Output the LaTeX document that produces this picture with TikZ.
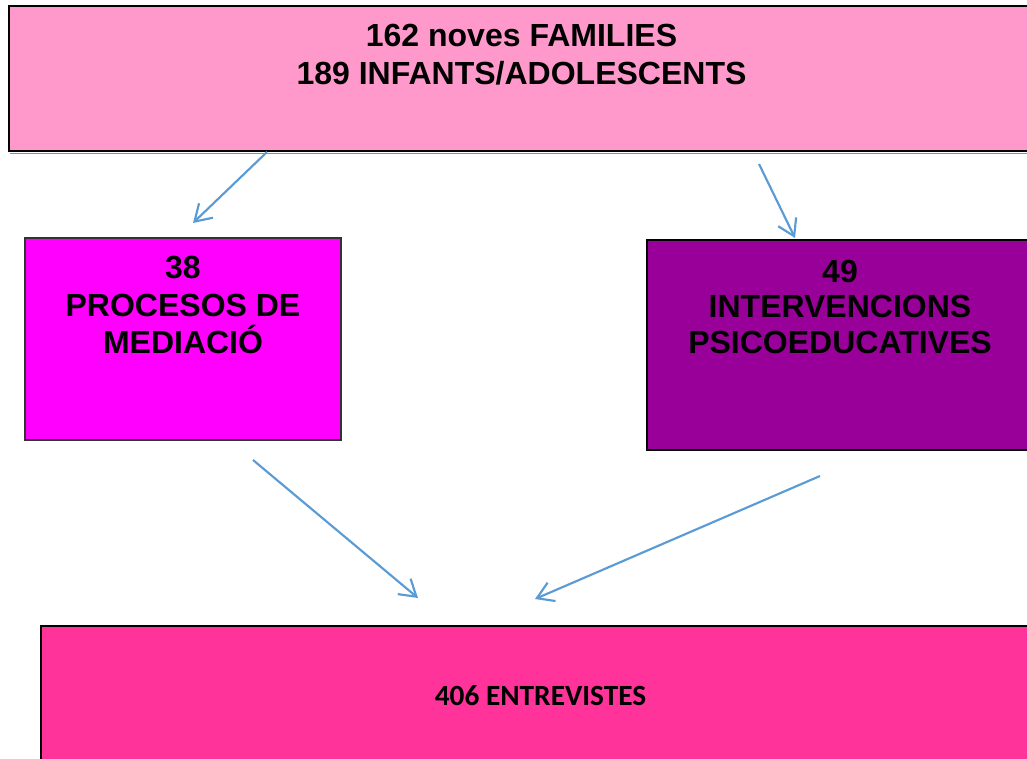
\documentclass[tikz,border=0pt]{standalone}
\usepackage{fontspec}
\setmainfont{Liberation Sans}
\newfontfamily\carlito{Carlito}
\usetikzlibrary{arrows.meta,fit}
\definecolor{toppink}{HTML}{FF99CC}
\definecolor{magbox}{HTML}{FF00FF}
\definecolor{purpbox}{HTML}{990099}
\definecolor{hotpink}{HTML}{FF3399}
\definecolor{arrowblue}{HTML}{5B9BD5}
\tikzset{
  box/.style={draw=black, inner sep=0pt, line width=1.2pt},
  bigtxt/.style={anchor=base, inner sep=0pt, font=\fontsize{24}{28}\selectfont\bfseries},
  smalltxt/.style={anchor=base, inner sep=0pt, font=\fontsize{22}{26}\selectfont\carlito\bfseries},
  conn/.style={draw=arrowblue, line width=1.6pt, -{Straight Barb[length=12pt,width=15pt]}}
}
\begin{document}
\begin{tikzpicture}[x=0.75pt, y=-0.75pt]
\clip (0,0) rectangle (1027,759);
\fill[white] (0,0) rectangle (1027,759);
% shadow line under top box
\draw[black!45, line width=1pt] (10,153.5) -- (1045,153.5);
% boxes
\node[box, fill=toppink, fit={(9,6) (1045,151)}] (top) {};
\node[box, fill=magbox, line width=0.9pt, draw=black!80, fit={(25,238) (341,440)}] (left) {};
\node[box, fill=purpbox, fit={(647,240) (1045,450)}] (right) {};
\node[box, fill=hotpink, line width=2pt, fit={(41,626) (1045,790)}] (bottom) {};
% texts
\node[bigtxt] (t1) at (521.5,47) {162 noves FAMILIES};
\node[bigtxt] (t2) at (521.5,85) {189 INFANTS/ADOLESCENTS};
\node[bigtxt] (l1) at (183,278) {38};
\node[bigtxt] (l2) at (183,316) {PROCESOS DE};
\node[bigtxt] (l3) at (183,353) {MEDIACIÓ};
\node[bigtxt] (r1) at (840,282) {49};
\node[bigtxt] (r2) at (840,317) {INTERVENCIONS};
\node[bigtxt] (r3) at (840,353) {PSICOEDUCATIVES};
\node[smalltxt] (b1) at (540.5,705) {406 ENTREVISTES};
% arrow endpoints
\coordinate (a1s) at (267,152);
\coordinate (a1e) at (193,223);
\coordinate (a2s) at (759,164);
\coordinate (a2e) at (795,238);
\coordinate (a3s) at (253,460);
\coordinate (a3e) at (418,598);
\coordinate (a4s) at (820,476);
\coordinate (a4e) at (535,599);
\draw[conn] (a1s) -- (a1e);
\draw[conn] (a2s) -- (a2e);
\draw[conn] (a3s) -- (a3e);
\draw[conn] (a4s) -- (a4e);
\end{tikzpicture}
\end{document}
